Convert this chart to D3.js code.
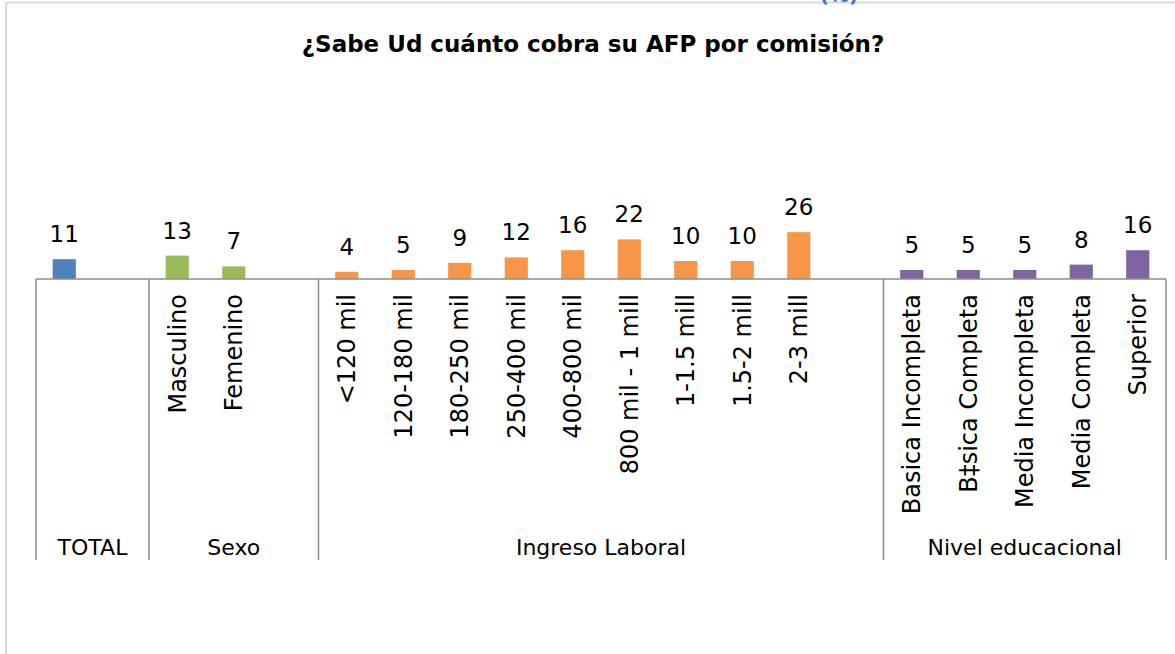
<!DOCTYPE html>
<html>
<head>
<meta charset="utf-8">
<script src="https://cdn.jsdelivr.net/npm/d3@7"></script>
<style>
    body { margin: 0; background: #ffffff; }
    svg { display: block; font-family: "DejaVu Sans", sans-serif; }
</style>
</head>
<body>
<div id="chart"></div>
<script>
// category labels (blank slots are the empty gaps Excel leaves in each group)
const labels = ["", "", "Masculino", "Femenino", "",
    "<120 mil", "120-180 mil", "180-250 mil", "250-400 mil", "400-800 mil",
    "800 mil - 1 mill", "1-1.5 mill", "1.5-2 mill", "2-3 mill", "",
    "Basica Incompleta", "B‡sica Completa", "Media Incompleta", "Media Completa", "Superior"];

// percentages
const values = [11, null, 13, 7, null,
    4, 5, 9, 12, 16, 22, 10, 10, 26, null,
    5, 5, 5, 8, 16];

// group each slot belongs to
const groupOf = ["TOTAL", "TOTAL", "Sexo", "Sexo", "Sexo",
    "Ingreso Laboral", "Ingreso Laboral", "Ingreso Laboral", "Ingreso Laboral", "Ingreso Laboral",
    "Ingreso Laboral", "Ingreso Laboral", "Ingreso Laboral", "Ingreso Laboral", "Ingreso Laboral",
    "Nivel educacional", "Nivel educacional", "Nivel educacional", "Nivel educacional", "Nivel educacional"];

const groups = ["TOTAL", "Sexo", "Ingreso Laboral", "Nivel educacional"];
const groupColors = ["#4f81bd", "#9bbb59", "#f79646", "#8064a2"];

const svgWidth = 1175;
const svgHeight = 654;
const axisY = 279;
const plotLeft = 36, plotRight = 1166;
const groupBottom = 560;

const svg = d3.select("#chart").append("svg")
    .attr("width", svgWidth)
    .attr("height", svgHeight);

// chart area border (only top and left visible in the crop)
svg.append("line").attr("x1", 6).attr("y1", 2.5).attr("x2", svgWidth).attr("y2", 2.5)
    .attr("stroke", "#d9d9d9").attr("stroke-width", 2);
svg.append("line").attr("x1", 6).attr("y1", 2.5).attr("x2", 6).attr("y2", svgHeight)
    .attr("stroke", "#d9d9d9").attr("stroke-width", 2);

// blue text above the chart, cut off by the crop like in the original
svg.append("text")
    .attr("x", 839).attr("y", 2)
    .attr("text-anchor", "middle")
    .style("font-size", "20px").style("font-weight", "bold")
    .style("fill", "#3c78d8")
    .text("(%)");

// title
svg.append("text")
    .attr("x", 593).attr("y", 52)
    .attr("text-anchor", "middle")
    .style("font-size", "23px").style("font-weight", "bold")
    .style("fill", "#000")
    .text("¿Sabe Ud cuánto cobra su AFP por comisión?");

const idx = d3.range(labels.length);

const xScale = d3.scaleBand()
    .domain(idx)
    .range([plotLeft, plotRight])
    .paddingInner(0.59)
    .paddingOuter(0.295);

const yScale = d3.scaleLinear()
    .domain([0, 100])
    .range([axisY, 99]);

const color = d3.scaleOrdinal().domain(groups).range(groupColors);

// bars
svg.selectAll("rect.bar")
    .data(idx.filter(i => values[i] != null))
    .enter()
    .append("rect")
    .attr("class", "bar")
    .attr("x", i => xScale(i))
    .attr("y", i => yScale(values[i]))
    .attr("width", xScale.bandwidth())
    .attr("height", i => axisY - yScale(values[i]))
    .style("fill", i => color(groupOf[i]));

// value labels
svg.selectAll("text.val")
    .data(idx.filter(i => values[i] != null))
    .enter()
    .append("text")
    .attr("class", "val")
    .attr("x", i => xScale(i) + xScale.bandwidth() / 2)
    .attr("y", i => yScale(values[i]) - 17)
    .attr("text-anchor", "middle")
    .style("font-size", "23px")
    .style("fill", "#000")
    .text(i => values[i]);

// axis line
const step = xScale.step();
svg.append("line")
    .attr("x1", plotLeft).attr("y1", axisY)
    .attr("x2", plotRight).attr("y2", axisY)
    .attr("stroke", "#8c8c8c").attr("stroke-width", 1.5);

// group dividers and group labels
let start = 0;
const bounds = [];
groups.forEach(g => {
    const n = groupOf.filter(d => d === g).length;
    bounds.push({ g: g, x0: plotLeft + start * step, x1: plotLeft + (start + n) * step });
    start += n;
});

const divX = [plotLeft].concat(bounds.map(b => b.x1));
svg.selectAll("line.div")
    .data(divX)
    .enter()
    .append("line")
    .attr("class", "div")
    .attr("x1", d => d).attr("x2", d => d)
    .attr("y1", axisY).attr("y2", groupBottom)
    .attr("stroke", "#8c8c8c").attr("stroke-width", 1.5);

svg.selectAll("text.grp")
    .data(bounds)
    .enter()
    .append("text")
    .attr("class", "grp")
    .attr("x", d => (d.x0 + d.x1) / 2)
    .attr("y", 555)
    .attr("text-anchor", "middle")
    .style("font-size", "22px")
    .style("fill", "#000")
    .text(d => d.g);

// rotated category labels
svg.selectAll("text.cat")
    .data(idx.filter(i => labels[i] !== ""))
    .enter()
    .append("text")
    .attr("class", "cat")
    .attr("transform", i => "translate(" + (xScale(i) + xScale.bandwidth() / 2) + "," + 294 + ") rotate(-90)")
    .attr("dy", "0.35em")
    .attr("text-anchor", "end")
    .style("font-size", "24px")
    .style("fill", "#000")
    .text(i => labels[i]);
</script>
</body>
</html>
